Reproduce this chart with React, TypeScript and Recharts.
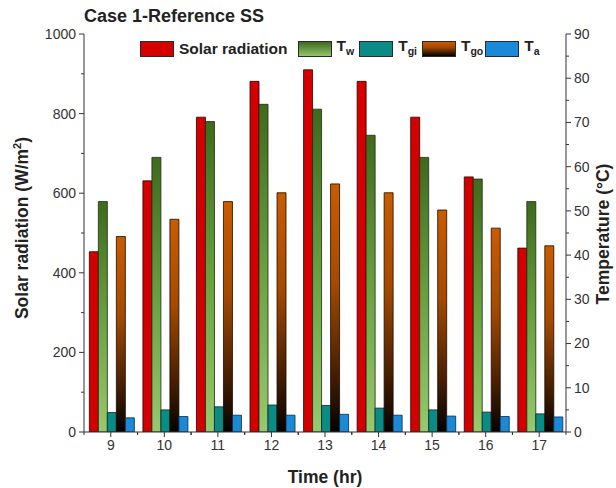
import React from "react";
import { BarChart, Bar, XAxis, YAxis, Legend } from "recharts";

const hours = ["9", "10", "11", "12", "13", "14", "15", "16", "17"];
const solarRadiation = [453, 631, 791, 881, 910, 881, 791, 641, 462];
const tw = [52.1, 62.1, 70.2, 74.1, 73.0, 67.1, 62.1, 57.2, 52.1];
const tgi = [4.4, 5.0, 5.7, 6.1, 6.0, 5.4, 5.0, 4.5, 4.1];
const tgo = [44.2, 48.1, 52.1, 54.1, 56.1, 54.1, 50.2, 46.1, 42.1];
const ta = [3.2, 3.5, 3.8, 3.8, 4.0, 3.8, 3.6, 3.5, 3.4];

const leftTicks = [0, 100, 200, 300, 400, 500, 600, 700, 800, 900, 1000];
const rightTicks = [0, 5, 10, 15, 20, 25, 30, 35, 40, 45, 50, 55, 60, 65, 70, 75, 80, 85, 90];

const data = hours.map((h, i) => ({
  hour: h,
  solar: solarRadiation[i],
  tw: tw[i],
  tgi: tgi[i],
  tgo: tgo[i],
  ta: ta[i],
}));

const FONT = "'Liberation Sans', Arial, sans-serif";
const AXIS = "#333";

const LeftTick = (props: any) => {
  const { x, y, payload } = props;
  const major = payload.value % 200 === 0;
  return (
    <g>
      <line x1={x} x2={x - (major ? 5 : 3)} y1={y} y2={y} stroke={AXIS} strokeWidth={1} />
      {major && (
        <text x={x - 8} y={y} dy="0.35em" textAnchor="end" fontSize={14} fill="#333" fontFamily={FONT}>
          {payload.value}
        </text>
      )}
    </g>
  );
};

const RightTick = (props: any) => {
  const { x, y, payload } = props;
  const major = payload.value % 10 === 0;
  return (
    <g>
      <line x1={x} x2={x + (major ? 5 : 3)} y1={y} y2={y} stroke={AXIS} strokeWidth={1} />
      {major && (
        <text x={x + 8} y={y} dy="0.35em" textAnchor="start" fontSize={14} fill="#333" fontFamily={FONT}>
          {payload.value}
        </text>
      )}
    </g>
  );
};

const BottomTick = (props: any) => {
  const { x, y, payload } = props;
  const half = payload && payload.offset ? payload.offset : 26.8;
  return (
    <g>
      <line x1={x} x2={x} y1={y} y2={y + 5} stroke={AXIS} strokeWidth={1} />
      <line x1={x - half} x2={x - half} y1={y} y2={y + 3} stroke={AXIS} strokeWidth={1} />
      <line x1={x + half} x2={x + half} y1={y} y2={y + 3} stroke={AXIS} strokeWidth={1} />
      <text x={x} y={y + 18} textAnchor="middle" fontSize={14} fill="#333" fontFamily={FONT}>
        {payload.value}
      </text>
    </g>
  );
};

const swatch = (bg: string) => ({
  width: 34,
  height: 16,
  border: "1px solid #2a2a2a",
  background: bg,
  boxSizing: "border-box" as const,
});

const subStyle = { fontSize: 10.5 };

const legendItems = [
  { label: <span>Solar radiation</span>, bg: "#d40000", gapAfter: 10 },
  { label: <span>T<sub style={subStyle}>w</sub></span>, bg: "linear-gradient(to bottom, #3e6a1c, #93c66b)", gapAfter: 5 },
  { label: <span>T<sub style={subStyle}>gi</sub></span>, bg: "#0b8b86", gapAfter: 5 },
  { label: <span>T<sub style={subStyle}>go</sub></span>, bg: "linear-gradient(to bottom, #c85c00 0%, #a04700 40%, #000 100%)", gapAfter: 2 },
  { label: <span>T<sub style={subStyle}>a</sub></span>, bg: "#1a8ad8", gapAfter: 0 },
];

const renderLegend = () => (
  <div style={{ display: "flex", alignItems: "center", fontFamily: FONT, fontWeight: "bold", fontSize: 15.5, color: "#222", whiteSpace: "nowrap" }}>
    {legendItems.map((it, i) => (
      <div key={i} style={{ display: "flex", alignItems: "center", marginRight: it.gapAfter }}>
        <div style={swatch(it.bg)} />
        <div style={{ marginLeft: 5, lineHeight: "16px" }}>{it.label}</div>
      </div>
    ))}
  </div>
);

const titleStyle = {
  position: "absolute" as const,
  fontSize: 17.5,
  fontWeight: "bold" as const,
  color: "#222",
  whiteSpace: "nowrap" as const,
};

export default function App() {
  return (
    <div style={{ position: "absolute", left: 0, top: 0, width: 616, height: 488, background: "#fff", fontFamily: FONT }}>
      <div style={{ position: "absolute", left: 84, top: 6, fontSize: 18, fontWeight: "bold", color: "#222", whiteSpace: "nowrap" }}>
        Case 1-Reference SS
      </div>
      <BarChart
        width={616}
        height={488}
        data={data}
        margin={{ top: 34, right: 0, bottom: 0, left: 0 }}
        barCategoryGap="10%"
        barGap={0}
      >
        <defs>
          <linearGradient id="gradTw" x1="0" y1="0" x2="0" y2="1">
            <stop offset="0%" stopColor="#3e6a1c" />
            <stop offset="50%" stopColor="#68a040" />
            <stop offset="100%" stopColor="#97c96e" />
          </linearGradient>
          <linearGradient id="gradTgo" x1="0" y1="0" x2="0" y2="1">
            <stop offset="0%" stopColor="#c95c00" />
            <stop offset="40%" stopColor="#a54a00" />
            <stop offset="75%" stopColor="#4a2000" />
            <stop offset="100%" stopColor="#050200" />
          </linearGradient>
        </defs>
        <XAxis
          dataKey="hour"
          height={56}
          axisLine={{ stroke: AXIS, strokeWidth: 1 }}
          tickLine={false}
          tickSize={0}
          tickMargin={0}
          tick={<BottomTick />}
          interval={0}
        />
        <XAxis xAxisId="top" dataKey="hour" orientation="top" height={0} tick={false} tickLine={false} axisLine={{ stroke: AXIS, strokeWidth: 1 }} />
        <YAxis
          yAxisId="left"
          orientation="left"
          width={84}
          domain={[0, 1000]}
          ticks={leftTicks}
          interval={0}
          axisLine={{ stroke: AXIS, strokeWidth: 1 }}
          tickLine={false}
          tickSize={0}
          tickMargin={0}
          tick={<LeftTick />}
          allowDataOverflow
        />
        <YAxis
          yAxisId="right"
          orientation="right"
          width={50}
          domain={[0, 90]}
          ticks={rightTicks}
          interval={0}
          axisLine={{ stroke: AXIS, strokeWidth: 1 }}
          tickLine={false}
          tickSize={0}
          tickMargin={0}
          tick={<RightTick />}
          allowDataOverflow
        />
        <Legend
          verticalAlign="middle"
          align="center"
          layout="horizontal"
          content={renderLegend}
          wrapperStyle={{ position: "absolute", top: 38, left: 140, width: "auto", height: 16 }}
        />
        <Bar yAxisId="left" dataKey="solar" fill="#d40000" stroke="#2a0000" strokeWidth={0.8} isAnimationActive={false} />
        <Bar yAxisId="right" dataKey="tw" fill="url(#gradTw)" stroke="#1e2a10" strokeWidth={0.8} isAnimationActive={false} />
        <Bar yAxisId="right" dataKey="tgi" fill="#0b8b86" stroke="#0a2a28" strokeWidth={0.8} isAnimationActive={false} />
        <Bar yAxisId="right" dataKey="tgo" fill="url(#gradTgo)" stroke="#1a0a00" strokeWidth={0.8} isAnimationActive={false} />
        <Bar yAxisId="right" dataKey="ta" fill="#1a8ad8" stroke="#0a2a44" strokeWidth={0.8} isAnimationActive={false} />
      </BarChart>
      <div style={{ ...titleStyle, left: 22, top: 228, transform: "translate(-50%, -50%) rotate(-90deg)" }}>
        Solar radiation (W/m<sup style={{ fontSize: 11 }}>2</sup>)
      </div>
      <div style={{ ...titleStyle, left: 603, top: 234, transform: "translate(-50%, -50%) rotate(-90deg)" }}>
        Temperature (°C)
      </div>
      <div style={{ ...titleStyle, left: 325, top: 477, transform: "translate(-50%, -50%)" }}>
        Time (hr)
      </div>
    </div>
  );
}
